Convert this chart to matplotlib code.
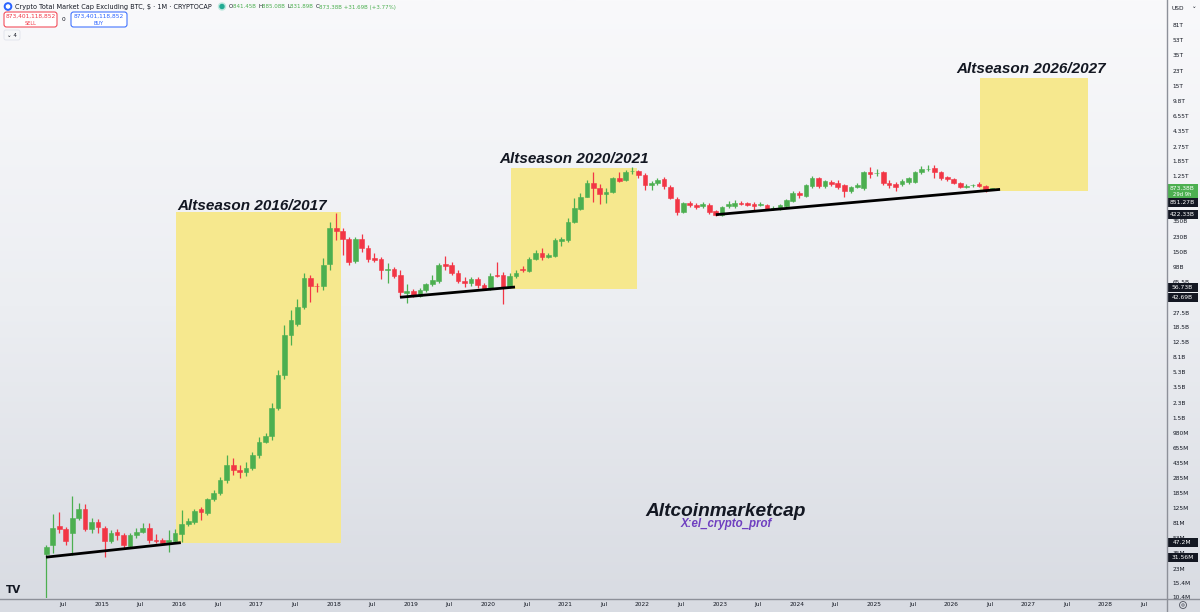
import numpy as np
import pandas as pd
import matplotlib
matplotlib.use("Agg")
import matplotlib.pyplot as plt
import matplotlib.dates as mdates
from matplotlib.colors import LinearSegmentedColormap
from matplotlib.patches import Rectangle, FancyBboxPatch, Circle
import datetime as dt

W, H, DPI = 1200, 612, 100

# ---------------- data: monthly candles, USD billions ----------------
first_month = "2014-04-01"
opens = [
    0.0344, 0.0443, 0.0750, 0.0690, 0.0618, 0.0936, 0.120, 0.0690, 0.0838,
    0.0710, 0.0494, 0.0635, 0.0584, 0.0431, 0.0584, 0.0635, 0.0710, 0.0508, 0.0508, 0.0481, 0.0494,
    0.0601, 0.0793, 0.0838, 0.120, 0.108, 0.158, 0.187, 0.268, 0.407, 0.354, 0.335, 0.375,
    0.537, 0.78, 0.91, 1.98, 4.9, 15.0, 20.5, 32.6, 73, 58.4, 58.4, 107,
    292, 268, 215, 117, 215, 167, 127, 124, 92, 93.5, 79, 48.1,
    50.8, 44.3, 52.2, 61.7, 67, 107, 104, 84, 67, 63.5, 71, 60,
    53.7, 79, 79, 56.8, 77, 93.5, 89, 124, 146, 131, 134, 203,
    209, 345, 494, 690, 1016, 885, 750, 792, 1167, 1104, 1400, 1420,
    1270, 962, 1016, 1135, 910, 650, 455, 583, 552, 537, 552, 468,
    419, 537, 537, 583, 583, 567, 552, 552, 500, 494, 537, 617,
    770, 710, 935, 1167, 935, 1045, 1016, 962, 815, 910, 885, 1380,
    1330, 1380, 1016, 990, 990, 1045, 1045, 1380, 1480, 1540, 1380, 1200,
    1135, 1016, 920, 950, 990, 935, 841.45,
]
highs = [
    0.0443, 0.105, 0.111, 0.0729, 0.172, 0.142, 0.138, 0.0936, 0.091,
    0.075, 0.0671, 0.069, 0.0618, 0.0618, 0.071, 0.081, 0.081, 0.0601, 0.054, 0.0671, 0.069,
    0.117, 0.0936, 0.120, 0.126, 0.165, 0.203, 0.29, 0.537, 0.49, 0.407, 0.442, 0.58,
    0.88, 1.0, 2.3, 5.7, 19.8, 30.0, 40.7, 84, 79, 63.5, 127, 342,
    443, 292, 228, 228, 247, 182, 146, 131, 111, 98, 91, 61.7,
    53.7, 55, 63.5, 79, 111, 134, 114, 91, 75, 75, 75, 63.5,
    84, 114, 86, 84, 91, 102, 131, 158, 167, 146, 222, 228,
    390, 670, 770, 1104, 1380, 990, 885, 1200, 1380, 1459, 1600, 1459,
    1340, 1074, 1167, 1200, 962, 690, 600, 617, 583, 600, 583, 481,
    537, 617, 634, 617, 600, 600, 600, 567, 537, 567, 650, 815,
    815, 990, 1230, 1200, 1104, 1104, 1104, 990, 935, 1016, 1420, 1600,
    1500, 1420, 1104, 1045, 1135, 1200, 1420, 1630, 1675, 1675, 1420, 1230,
    1167, 1045, 990, 990, 1045, 962, 885.08,
]
lows = [
    0.0103, 0.0354, 0.0618, 0.0443, 0.0335, 0.0885, 0.065, 0.0618, 0.0618,
    0.0317, 0.0468, 0.0508, 0.041, 0.0419, 0.054, 0.0618, 0.0468, 0.0468, 0.0443, 0.036, 0.0468,
    0.0481, 0.075, 0.0793, 0.0885, 0.102, 0.150, 0.177, 0.25, 0.31, 0.284, 0.30, 0.354,
    0.49, 0.74, 0.82, 1.87, 4.4, 11.4, 19.0, 31, 37.4, 49.4, 52.2, 91,
    209, 138, 104, 111, 149, 114, 114, 71, 63.5, 73, 43.1, 36.4,
    43.1, 43.1, 49.4, 58.4, 63.5, 91, 79, 63.5, 56.8, 58.4, 55, 52.2,
    52.2, 75, 35.4, 55, 73, 86, 86, 120, 120, 127, 131, 176,
    197, 332, 481, 680, 600, 567, 583, 770, 1045, 1074, 1310, 1167,
    837, 837, 962, 860, 650, 419, 443, 522, 494, 508, 431, 408,
    408, 508, 508, 552, 537, 481, 537, 481, 481, 481, 522, 600,
    670, 690, 885, 885, 885, 935, 860, 690, 770, 885, 837, 1167,
    1240, 962, 885, 815, 935, 990, 1016, 1310, 1420, 1167, 1104, 1074,
    990, 885, 885, 910, 910, 792, 831.89,
]
closes = [
    0.0419, 0.0710, 0.0690, 0.0494, 0.0936, 0.120, 0.0690, 0.0838, 0.0729,
    0.0494, 0.0618, 0.0584, 0.0443, 0.0584, 0.0635, 0.0710, 0.0508, 0.0500, 0.0468, 0.0508, 0.0618,
    0.0793, 0.0861, 0.114, 0.111, 0.158, 0.187, 0.268, 0.407, 0.354, 0.335, 0.375, 0.537,
    0.78, 0.91, 1.98, 4.9, 15.0, 22.7, 32.6, 73, 58.4, 57.6, 104, 292,
    268, 215, 114, 215, 167, 124, 120, 91, 93.5, 77, 49.4, 50.8,
    44.3, 52.2, 61.7, 69, 104, 102, 84, 67, 63.5, 71, 60, 53.7,
    77, 77, 56.8, 77, 84, 91, 124, 146, 131, 138, 209, 215,
    345, 510, 690, 1016, 885, 750, 792, 1167, 1074, 1380, 1420, 1270,
    962, 1016, 1104, 935, 670, 455, 583, 552, 522, 567, 455, 419,
    522, 567, 583, 575, 552, 537, 567, 494, 508, 552, 634, 770,
    729, 962, 1167, 935, 1074, 990, 910, 815, 910, 962, 1380, 1310,
    1360, 1016, 962, 910, 1074, 1167, 1380, 1500, 1500, 1380, 1167, 1135,
    1016, 910, 935, 962, 935, 841.45, 873.38,
]

y_tick_values = [81e12, 53e12, 35e12, 23e12, 15e12, 9.8e12, 6.55e12, 4.35e12, 2.75e12, 1.85e12,
                 1.25e12, 350e9, 230e9, 150e9, 98e9, 65.5e9, 27.5e9, 18.5e9, 12.5e9, 8.1e9,
                 5.3e9, 3.5e9, 2.3e9, 1.5e9, 980e6, 655e6, 435e6, 285e6, 185e6, 125e6,
                 81e6, 53e6, 35e6, 23e6, 15.4e6, 10.4e6]
y_tick_labels = ["81T", "53T", "35T", "23T", "15T", "9.8T", "6.55T", "4.35T", "2.75T", "1.85T",
                 "1.25T", "350B", "230B", "150B", "98B", "65.5B", "27.5B", "18.5B", "12.5B", "8.1B",
                 "5.3B", "3.5B", "2.3B", "1.5B", "980M", "655M", "435M", "285M", "185M", "125M",
                 "81M", "53M", "35M", "23M", "15.4M", "10.4M"]

# trend lines (start date, start value, end date, end value)
trend_lines = [
    ("2014-04-11", 31.56e6, "2016-01-09", 47.2e6),
    ("2018-11-11", 42.69e9, "2020-05-08", 56.73e9),
    ("2022-12-14", 422.33e9, "2026-08-20", 851.27e9),
]
# highlighted zones (start, end, low, high)
zones = [
    ("2015-12-17", "2018-02-05", 46.8e6, 455e9),
    ("2020-04-19", "2021-12-06", 53.7e9, 1.54e12),
    ("2026-05-17", "2027-10-11", 815e9, 18.7e12),
]
# zone captions (text, anchor date, baseline value)
zone_labels = [
    ("Altseason 2016/2017", "2015-12-22", 481e9),
    ("Altseason 2020/2021", "2020-02-22", 1.77e12),
    ("Altseason 2026/2027", "2026-01-23", 21.5e12),
]

GREEN = "#4caf50"
RED = "#f23645"
ZONE = "#f6e88e"
CAPTION_FONT = ["Liberation Sans", "DejaVu Sans"]

# ---------------- figure ----------------
fig = plt.figure(figsize=(W / DPI, H / DPI), dpi=DPI)
bg = fig.add_axes([0, 0, 1, 1], zorder=-10)
cmap = LinearSegmentedColormap.from_list("bg", ["#f9f9fb", "#eceef2", "#d8dbe2"])
bg.imshow(np.linspace(0, 1, 256).reshape(-1, 1), aspect="auto", cmap=cmap,
          extent=[0, 1, 0, 1], origin="upper")
bg.axis("off")

ax = fig.add_axes([0, 14 / H, 1166 / W, 598 / H])
ax.patch.set_alpha(0)
ax.set_yscale("log")

# x scale: Jan 2015 at px 102, 77.2 px per year
px_per_day = 77.2 / 365.25
origin = mdates.date2num(dt.datetime(2015, 1, 1))
ax.set_xlim(origin - 102 / px_per_day, origin + (1166 - 102) / px_per_day)
ax.set_ylim(10 ** (9 + 5.212 - 598 / 83), 10 ** (9 + 5.212))

dates = pd.date_range(first_month, periods=len(opens), freq="MS") + pd.Timedelta(days=12)
xd = mdates.date2num(dates.to_pydatetime())
o = np.array(opens) * 1e9
h = np.array(highs) * 1e9
l = np.array(lows) * 1e9
c = np.array(closes) * 1e9
cols = np.where(c >= o, GREEN, RED)

# zones
for s, e, lo, hi in zones:
    xs, xe = mdates.date2num(pd.Timestamp(s)), mdates.date2num(pd.Timestamp(e))
    ax.add_patch(Rectangle((xs, lo), xe - xs, hi - lo, facecolor=ZONE, edgecolor="none", zorder=1))

ax.vlines(xd, l, h, colors=cols, linewidth=0.9, zorder=3)
ax.bar(xd, np.abs(c - o), bottom=np.minimum(o, c), width=22, color=cols,
       edgecolor=cols, linewidth=0.4, zorder=4)

for s, v0, e, v1 in trend_lines:
    ax.plot([mdates.date2num(pd.Timestamp(s)), mdates.date2num(pd.Timestamp(e))], [v0, v1],
            color="black", linewidth=2.0, solid_capstyle="butt", zorder=5)

# axes styling
for sp in ax.spines.values():
    sp.set_visible(False)
ax.yaxis.tick_right()
ax.set_yticks(y_tick_values)
ax.set_yticklabels(y_tick_labels)
ax.yaxis.set_minor_locator(matplotlib.ticker.NullLocator())
ax.tick_params(axis="y", length=0, pad=4.5, labelsize=4.2, labelcolor="#131722")

xt, xl = [], []
for yr in range(2014, 2029):
    if yr >= 2015:
        xt.append(mdates.date2num(dt.datetime(yr, 1, 1)))
        xl.append(str(yr))
    xt.append(mdates.date2num(dt.datetime(yr, 7, 1)))
    xl.append("Jul")
ax.set_xticks(xt)
ax.set_xticklabels(xl)
ax.tick_params(axis="x", length=0, pad=3.2, labelsize=4.2, labelcolor="#131722")

fig.canvas.draw()
r = fig.canvas.get_renderer()


def fit(t, width_px):
    w = t.get_window_extent(renderer=r).width
    t.set_fontsize(t.get_fontsize() * width_px / w)
    return t


# zone captions
for label, d, v in zone_labels:
    t = ax.text(mdates.date2num(pd.Timestamp(d)), v, label, fontsize=10, fontweight="bold",
                fontstyle="italic", family=CAPTION_FONT, color="#131722", ha="left",
                va="baseline", zorder=6)
    fit(t, 150)

# ---------------- overlay in pixel coordinates ----------------
ov = fig.add_axes([0, 0, 1, 1], zorder=5)
ov.set_xlim(0, W)
ov.set_ylim(H, 0)
ov.axis("off")
ov.patch.set_alpha(0)

ov.plot([0, W], [598.5, 598.5], color="#8d9099", lw=1.0)
ov.plot([1166.5, 1166.5], [0, H], color="#8d9099", lw=1.0)


def seq_text(x, y, parts, size, total_width=None):
    ts = [ov.text(0, y, s, color=col, fontsize=size, ha="left", va="center") for s, col in parts]
    widths = [t.get_window_extent(renderer=r).width for t in ts]
    scale = 1.0 if total_width is None else total_width / sum(widths)
    for t, w in zip(ts, widths):
        t.set_fontsize(size * scale)
        t.set_x(x)
        x += w * scale
    return x


# header
ov.add_patch(Circle((8, 6.5), 3.6, color="#2962ff"))
ov.add_patch(Circle((8, 6.5), 1.6, color="white"))
seq_text(15, 7, [("Crypto Total Market Cap Excluding BTC, $ · 1M · CRYPTOCAP", "#131722")], 5, 196)
ov.add_patch(Circle((222, 6.5), 3.5, color="#bfe8df"))
ov.add_patch(Circle((222, 6.5), 2.0, color="#22ab94"))
G = "#4caf50"
D = "#131722"
seq_text(229, 7, [("O", D), ("841.45B ", G), ("H", D), ("885.08B ", G), ("L", D),
                  ("831.89B ", G), ("C", D), ("873.38B +31.69B (+3.77%)", G)], 4.4, 168)

ov.add_patch(FancyBboxPatch((4, 12), 53, 15, boxstyle="round,pad=0,rounding_size=2.5",
                            fc="white", ec="#f23645", lw=0.7))
ov.text(30.5, 16.5, "873,401,118,852", color="#f23645", fontsize=4.2, ha="center", va="center")
ov.text(30.5, 23.5, "SELL", color="#f23645", fontsize=3.6, ha="center", va="center")
ov.text(64, 19.5, "0", color="#131722", fontsize=4.2, ha="center", va="center")
ov.add_patch(FancyBboxPatch((71, 12), 56, 15, boxstyle="round,pad=0,rounding_size=2.5",
                            fc="white", ec="#2962ff", lw=0.7))
ov.text(99, 16.5, "873,401,118,852", color="#2962ff", fontsize=4.2, ha="center", va="center")
ov.text(99, 23.5, "BUY", color="#2962ff", fontsize=3.6, ha="center", va="center")
ov.add_patch(FancyBboxPatch((4, 30), 16, 10, boxstyle="round,pad=0,rounding_size=2",
                            fc="#f6f7f9", ec="#e0e3eb", lw=0.6))
ov.text(12, 35.5, "⌄ 4", color="#131722", fontsize=4.0, ha="center", va="center")

# right axis header / footer
ov.text(1171, 8, "USD", color="#131722", fontsize=4.2, ha="left", va="center")
ov.text(1192, 7, "⌄", color="#131722", fontsize=4.0, ha="left", va="center")
ov.add_patch(Circle((1183, 605), 3.5, fill=False, ec="#50535e", lw=0.6))
ov.add_patch(Circle((1183, 605), 1.2, fill=False, ec="#50535e", lw=0.5))

# TradingView logo
ov.text(6, 590, "TV", color="#131722", fontsize=7.5, fontweight="bold", ha="left", va="center")

# annotation texts
fit(ov.text(726, 511, "Altcoinmarketcap", fontsize=12, fontweight="bold", fontstyle="italic",
            family=CAPTION_FONT, color="#131722", ha="center", va="center"), 160)
fit(ov.text(726, 524.5, "X:el_crypto_prof", fontsize=7.2, fontweight="bold", fontstyle="italic",
            family=CAPTION_FONT, color="#6f3fc0", ha="center", va="center"), 92)


def ypix(value):
    return H - ax.transData.transform((ax.get_xlim()[0], value))[1]


def tag(value, text, fc, dy=0.0, hgt=9.0):
    yy = ypix(value) + dy
    ov.add_patch(Rectangle((1167, yy - hgt / 2), 31, hgt, fc=fc, ec="none"))
    ov.text(1182.5, yy, text, color="white", fontsize=4.3, ha="center", va="center")


# last price (green, two lines)
yy = ypix(873.38e9)
ov.add_patch(Rectangle((1167, yy - 4.5), 31, 14, fc="#4caf50", ec="none"))
ov.text(1182.5, yy, "873.38B", color="white", fontsize=4.3, ha="center", va="center")
ov.text(1182.5, yy + 6.5, "29d 9h", color="white", fontsize=3.8, ha="center", va="center")
tag(851.27e9, "851.27B", "#131722", dy=13)
tag(422.33e9, "422.33B", "#131722")
tag(56.73e9, "56.73B", "#131722")
tag(42.69e9, "42.69B", "#131722")
tag(47.2e6, "47.2M", "#131722")
tag(31.56e6, "31.56M", "#131722")

fig.savefig("out.png", dpi=DPI)
